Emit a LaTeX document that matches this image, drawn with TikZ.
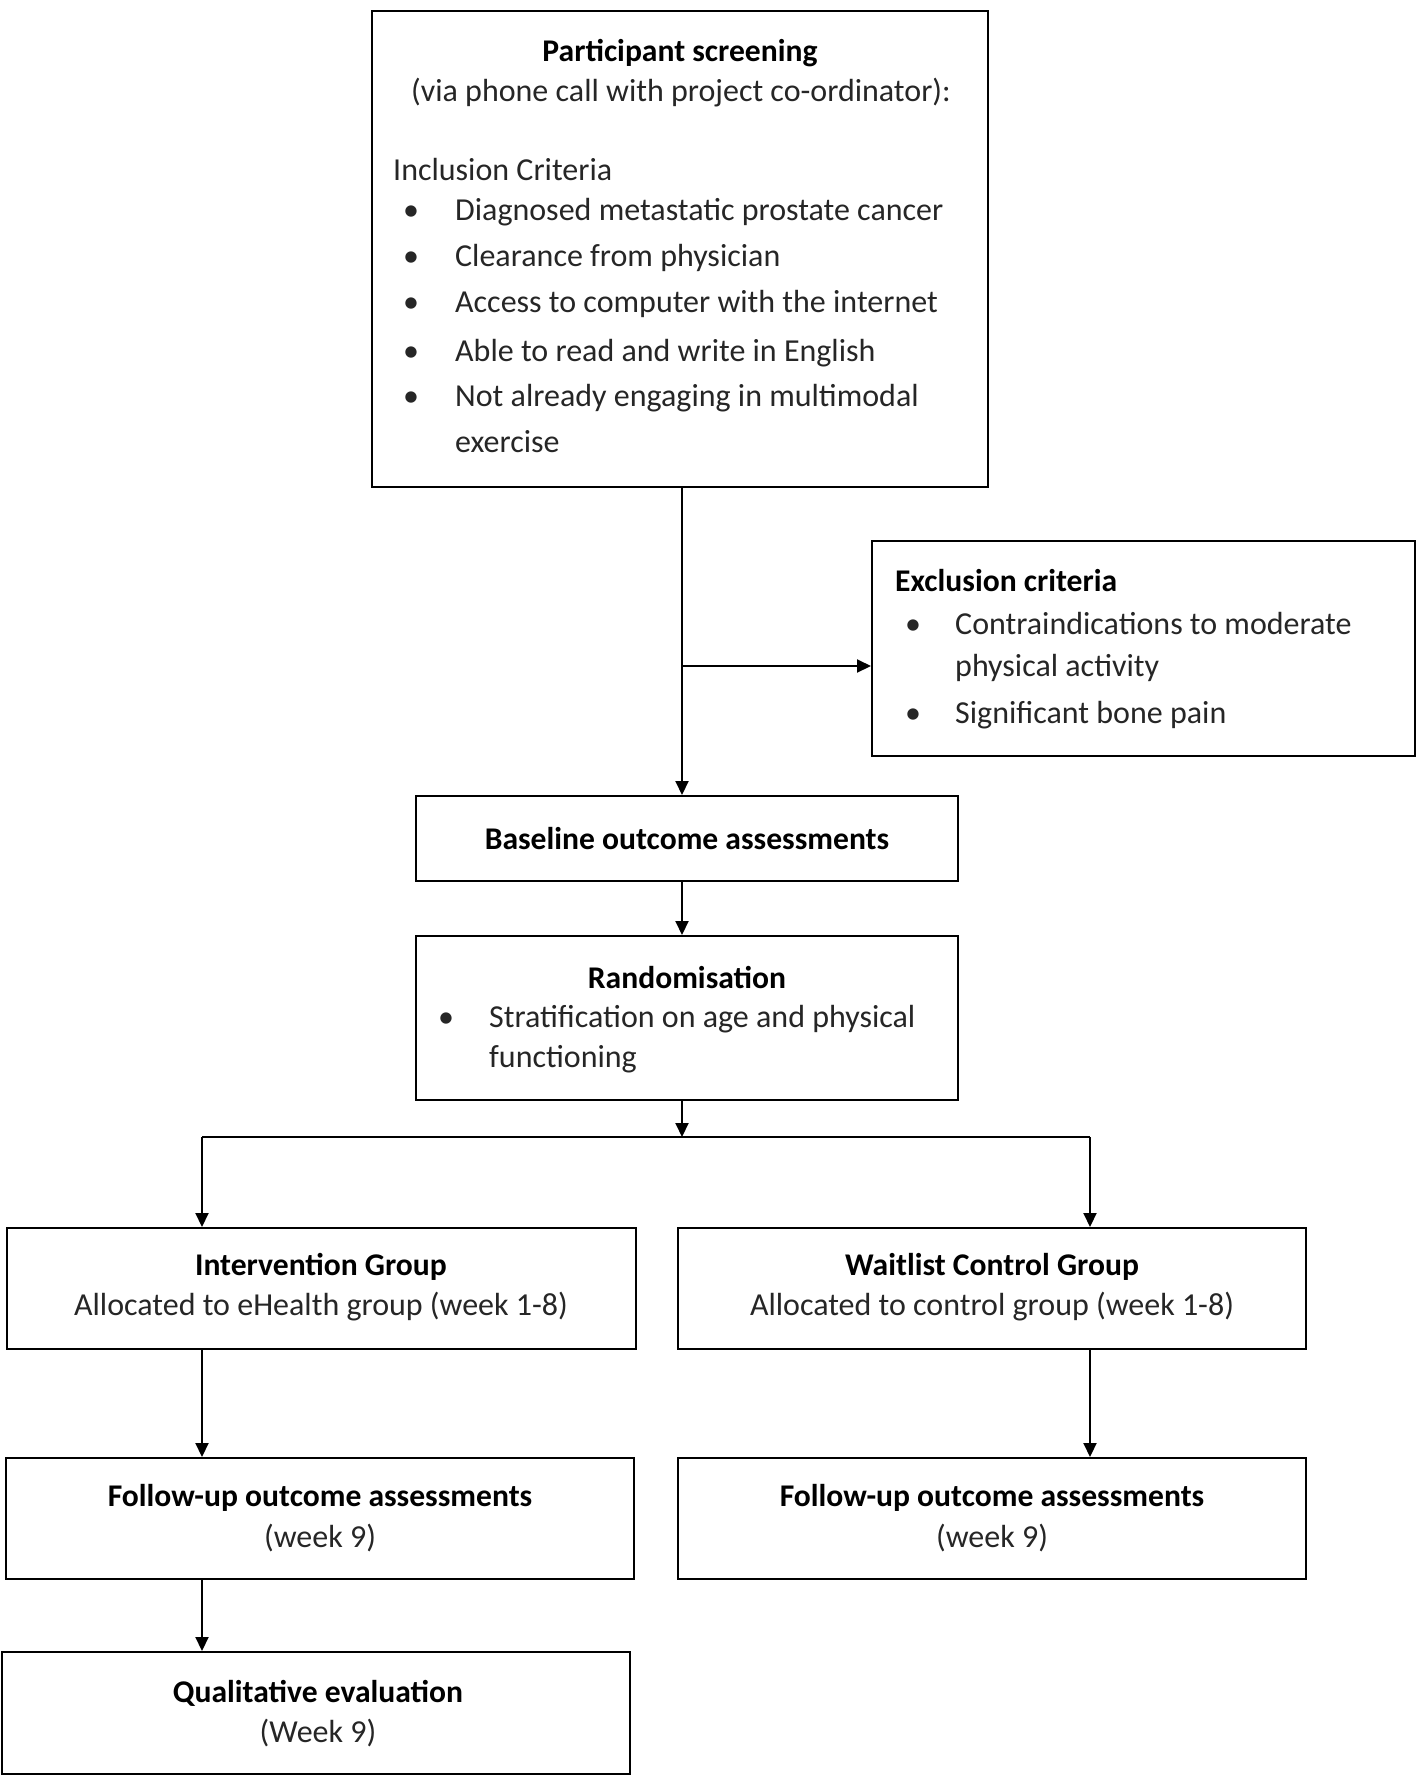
\documentclass[tikz,border=0pt]{standalone}
\usepackage{fontspec}
\setmainfont{Carlito}
\usetikzlibrary{arrows.meta}
\begin{document}
\begin{tikzpicture}[x=1pt,y=-1pt,
  box/.style={draw=black, line width=2pt, inner sep=0pt},
  txt/.style={inner sep=0pt, font=\fontsize{32}{38}\selectfont, text=black!85},
  btxt/.style={inner sep=0pt, font=\fontsize{31.6}{38}\selectfont\bfseries},
  conn/.style={line width=2pt, draw=black},
  arr/.style={conn, -{Triangle[length=14pt,width=13pt]}}]
\useasboundingbox (0,0) rectangle (1418,1777);
\fill[white] (0,0) rectangle (1418,1777);

% boxes
\node[box, minimum width=616pt, minimum height=476pt] (scr) at (680,249) {};
\node[box, minimum width=543pt, minimum height=215pt] (exc) at (1143.5,648.5) {};
\node[box, minimum width=542pt, minimum height=85pt] (base) at (687,838.5) {};
\node[box, minimum width=542pt, minimum height=164pt] (rand) at (687,1018) {};
\node[box, minimum width=629pt, minimum height=121pt] (int) at (321.5,1288.5) {};
\node[box, minimum width=628pt, minimum height=121pt] (wait) at (992,1288.5) {};
\node[box, minimum width=628pt, minimum height=121pt] (ful) at (320,1518.5) {};
\node[box, minimum width=628pt, minimum height=121pt] (fur) at (992,1518.5) {};
\node[box, minimum width=628pt, minimum height=122pt] (qual) at (316,1713) {};

% screening text
\node[btxt] (s1) at (680,53) {Participant screening};
\node[txt] (s2) at (681,93) {(via phone call with project co-ordinator):};
\node[txt, anchor=west] (s3) at (393,170) {Inclusion Criteria};
\node[txt, anchor=west] (s4) at (403,212) {\makebox[52pt][l]{•}Diagnosed metastatic prostate cancer};
\node[txt, anchor=west] (s5) at (403,258) {\makebox[52pt][l]{•}Clearance from physician};
\node[txt, anchor=west] (s6) at (403,304) {\makebox[52pt][l]{•}Access to computer with the internet};
\node[txt, anchor=west] (s7) at (403,353) {\makebox[52pt][l]{•}Able to read and write in English};
\node[txt, anchor=west] (s8) at (403,398) {\makebox[52pt][l]{•}Not already engaging in multimodal};
\node[txt, anchor=west] (s9) at (455,442) {exercise};

% exclusion text
\node[btxt, anchor=west] (e1) at (895,581) {Exclusion criteria};
\node[txt, anchor=west] (e2) at (905,623) {\makebox[50pt][l]{•}Contraindications to moderate};
\node[txt, anchor=west] (e3) at (955,668) {physical activity};
\node[txt, anchor=west] (e4) at (905,715) {\makebox[50pt][l]{•}Significant bone pain};

% baseline / randomisation
\node[btxt] (b1) at (687,839) {Baseline outcome assessments};
\node[btxt] (r1) at (687,977) {Randomisation};
\node[txt, anchor=west] (r2) at (438,1019) {\makebox[51pt][l]{•}Stratification on age and physical};
\node[txt, anchor=west] (r3) at (489,1059) {functioning};

% groups
\node[btxt] (i1) at (321,1267) {Intervention Group};
\node[txt] (i2) at (321,1307) {Allocated to eHealth group (week 1-8)};
\node[btxt] (w1) at (992,1267) {Waitlist Control Group};
\node[txt] (w2) at (992,1307) {Allocated to control group (week 1-8)};
\node[btxt] (f1) at (320,1498) {Follow-up outcome assessments};
\node[txt] (f2) at (320,1538) {(week 9)};
\node[btxt] (g1) at (992,1498) {Follow-up outcome assessments};
\node[txt] (g2) at (992,1538) {(week 9)};
\node[btxt] (q1) at (318,1693) {Qualitative evaluation};
\node[txt] (q2) at (318,1733) {(Week 9)};

% connectors
\coordinate (m) at (682,666);
\coordinate (sl) at (202,1137);
\coordinate (sr) at (1090,1137);
\coordinate (sm) at (682,1137);
\draw[arr] (scr.south -| m) -- (base.north -| m);
\draw[arr] (m) -- (m -| exc.west);
\draw[arr] (base.south -| m) -- (rand.north -| m);
\draw[arr] (rand.south -| m) -- (sm);
\draw[conn] (sl) -- (sr);
\draw[arr] (sl) -- (int.north -| sl);
\draw[arr] (sr) -- (wait.north -| sr);
\draw[arr] (int.south -| sl) -- (ful.north -| sl);
\draw[arr] (wait.south -| sr) -- (fur.north -| sr);
\draw[arr] (ful.south -| sl) -- (qual.north -| sl);
\end{tikzpicture}
\end{document}
